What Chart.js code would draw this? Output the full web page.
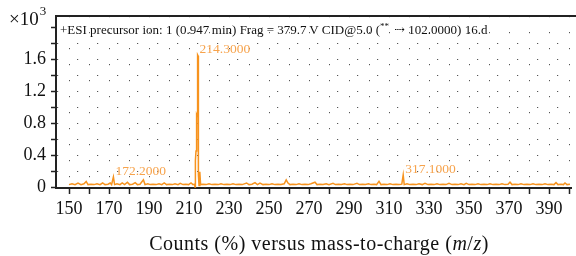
<!DOCTYPE html>
<html lang="en">
<head>
<meta charset="UTF-8">
<title>ESI precursor ion spectrum</title>
<style>
  html, body { margin: 0; padding: 0; background: #fff; }
  #wrap { width: 576px; height: 256px; }
</style>
</head>
<body>
<div id="wrap"><canvas id="myChart" width="576" height="256"></canvas></div>

<script src="https://cdn.jsdelivr.net/npm/chart.js@4/dist/chart.umd.min.js"></script>
<script>
// m/z values and counts (x10^3)
var mzValues = [150, 151.5, 153, 154.5, 156, 157.5, 158.6, 159.5, 161, 162.5, 164, 165.5, 166.8, 168, 169.5, 170.6, 171.3, 172.2, 172.8, 174,
  175.5, 176.6, 177.8, 179.2, 180.3, 181.8, 183.1, 184.2, 185.5, 187.2, 188, 189.4, 190.6, 192, 193.5, 195, 196.4, 197.6, 198.8, 200.2,
  201.7, 203, 204.5, 205.6, 207, 208.4, 209.8, 211, 212, 212.7, 213.0, 213.2, 213.5, 213.8, 214.1, 214.3, 214.5, 214.7, 215.0, 215.4,
  215.8, 217, 218.5, 220, 221.5, 223, 224.6, 226, 227.5, 229, 230.5, 232, 233.5, 235, 236.6, 238.8, 240, 241.5, 243, 244.2,
  245.5, 247, 248.5, 250, 251.5, 253, 254.5, 256, 257.6, 258.6, 259.5, 260.5, 262, 263.5, 265, 266.5, 268, 269.5, 271, 273,
  274, 275.5, 277, 278.6, 280, 282, 283.2, 284.8, 286.2, 287.8, 289, 290.5, 292, 294, 295.2, 296.8, 298.2, 299.8, 301, 302.5,
  303.8, 305, 306, 307.5, 309, 310.5, 312, 313.5, 315, 316.4, 317.1, 317.6, 319, 320.5, 322, 323.5, 325, 326.6, 328, 329.5,
  331, 332.5, 334, 335.5, 337, 338.5, 340, 341.5, 343, 344.5, 346, 347.5, 348.6, 350, 351.5, 353, 354.5, 356, 357.5, 359,
  360.5, 362, 363.5, 365, 366.5, 368, 369.5, 370.5, 371.5, 373, 374.5, 376, 377.5, 379, 380.5, 382, 383.5, 385, 386.5, 388,
  389.5, 391, 392.5, 393.5, 394.5, 396, 397.2, 398, 399, 400.5];
var counts = [0.03, 0.04, 0.03, 0.05, 0.03, 0.04, 0.07, 0.03, 0.035, 0.03, 0.04, 0.03, 0.05, 0.03, 0.035, 0.05, 0.03, 0.125, 0.03, 0.04,
  0.03, 0.05, 0.03, 0.06, 0.03, 0.035, 0.055, 0.03, 0.035, 0.09, 0.03, 0.04, 0.03, 0.035, 0.03, 0.04, 0.03, 0.05, 0.03, 0.035,
  0.03, 0.04, 0.03, 0.045, 0.03, 0.035, 0.03, 0.05, 0.03, 0.035, 0.0, 0.33, 0.45, 0.9, 0.88, 1.65, 1.64, 0.15, 0.02, 0.19,
  0.03, 0.035, 0.03, 0.04, 0.03, 0.035, 0.03, 0.04, 0.03, 0.035, 0.03, 0.04, 0.03, 0.035, 0.03, 0.05, 0.03, 0.035, 0.055, 0.03,
  0.05, 0.03, 0.035, 0.03, 0.04, 0.03, 0.035, 0.03, 0.04, 0.09, 0.05, 0.03, 0.035, 0.03, 0.04, 0.03, 0.035, 0.03, 0.04, 0.06,
  0.03, 0.035, 0.03, 0.04, 0.03, 0.045, 0.03, 0.035, 0.03, 0.04, 0.03, 0.035, 0.03, 0.045, 0.03, 0.035, 0.03, 0.04, 0.03, 0.035,
  0.03, 0.07, 0.03, 0.035, 0.03, 0.04, 0.03, 0.035, 0.03, 0.035, 0.15, 0.03, 0.04, 0.03, 0.035, 0.03, 0.04, 0.03, 0.045, 0.03,
  0.035, 0.03, 0.04, 0.03, 0.035, 0.03, 0.045, 0.03, 0.035, 0.03, 0.04, 0.03, 0.045, 0.03, 0.035, 0.03, 0.04, 0.03, 0.035, 0.03,
  0.04, 0.03, 0.035, 0.03, 0.04, 0.03, 0.035, 0.06, 0.03, 0.035, 0.03, 0.04, 0.03, 0.035, 0.03, 0.04, 0.03, 0.035, 0.03, 0.04,
  0.03, 0.035, 0.03, 0.055, 0.03, 0.035, 0.03, 0.05, 0.03, 0.035];

// labelled peaks
var peakMz = [214.3, 172.2, 317.1];
var peakCounts = [1.65, 0.125, 0.15];
var peakLabels = ['214.3000', '172.2000', '317.1000'];

var xTickLabels = ['150', '170', '190', '210', '230', '250', '270', '290', '310', '330', '350', '370', '390'];
var yTickLabels = ['0', '0.4', '0.8', '1.2', '1.6'];

var titleText = '+ESI precursor ion: 1 (0.947\u2009min) Frag = 379.7\u2009V CID@5.0 (';
var titleSup = '**';
var titleEnd = ' \u21e2 102.0000) 16.d';

var serif = "'Liberation Serif', 'DejaVu Serif', serif";
var orange = '#f7931e';

var points = [];
for (var i = 0; i < mzValues.length; i++) {
    points.push({ x: mzValues[i], y: counts[i] });
}

var decor = {
    id: 'decor',
    afterDraw: function (chart) {
        var ctx = chart.ctx;
        var area = chart.chartArea;
        var xs = chart.scales.x;
        var ys = chart.scales.y;
        ctx.save();

        // top frame line
        ctx.strokeStyle = '#222';
        ctx.lineWidth = 2;
        ctx.beginPath();
        ctx.moveTo(area.left - 1, area.top);
        ctx.lineTo(chart.width, area.top);
        ctx.stroke();

        // header text
        ctx.fillStyle = '#111';
        ctx.textBaseline = 'alphabetic';
        ctx.textAlign = 'left';
        ctx.font = '13px ' + serif;
        var tx = area.left + 4;
        var ty = area.top + 18;
        ctx.fillText(titleText, tx, ty);
        tx += ctx.measureText(titleText).width;
        ctx.font = '9px ' + serif;
        ctx.fillText(titleSup, tx, ty - 5);
        tx += ctx.measureText(titleSup).width + 2;
        ctx.font = '13px ' + serif;
        ctx.fillText(titleEnd, tx, ty);

        // x10^3 multiplier
        ctx.font = '19px ' + serif;
        ctx.fillText('\u00d710', 9, 25);
        var w = ctx.measureText('\u00d710').width;
        ctx.font = '13px ' + serif;
        ctx.fillText('3', 9 + w + 1, 15);

        // peak labels
        ctx.fillStyle = '#f7a34c';
        ctx.font = '13.5px ' + serif;
        ctx.textBaseline = 'middle';
        for (var k = 0; k < peakMz.length; k++) {
            var px = xs.getPixelForValue(peakMz[k]);
            var py = ys.getPixelForValue(peakCounts[k]);
            ctx.fillText(peakLabels[k], px + 2, py - 6);
        }

        // x axis title with italic m/z
        var parts = [
            { t: 'Counts (%) versus mass-to-charge (', f: '20px ' + serif },
            { t: 'm', f: 'italic 20px ' + serif },
            { t: '/', f: '20px ' + serif },
            { t: 'z', f: 'italic 20px ' + serif },
            { t: ')', f: '20px ' + serif }
        ];
        ctx.letterSpacing = '0.5px';
        var total = 0;
        parts.forEach(function (p) { ctx.font = p.f; total += ctx.measureText(p.t).width; });
        var cx = 319 - total / 2;
        ctx.fillStyle = '#111';
        ctx.textBaseline = 'alphabetic';
        parts.forEach(function (p) {
            ctx.font = p.f;
            ctx.fillText(p.t, cx, 250);
            cx += ctx.measureText(p.t).width;
        });

        ctx.restore();
    }
};

new Chart(document.getElementById('myChart').getContext('2d'), {
    type: 'line',
    data: {
        datasets: [{
            data: points,
            borderColor: orange,
            borderWidth: 1.5,
            pointRadius: 0,
            fill: false,
            tension: 0
        }]
    },
    options: {
        responsive: false,
        animation: false,
        layout: { padding: { top: 16, right: 5, left: 0, bottom: 0 } },
        plugins: { legend: { display: false }, tooltip: { enabled: false } },
        scales: {
            x: {
                type: 'linear',
                min: 143.5,
                max: 401,
                afterFit: function (s) { s.height = 68; },
                border: { color: '#222', width: 2, dash: [1.2, 14.8] },
                grid: { color: '#555', lineWidth: 1, tickColor: '#222', tickLength: 6, tickWidth: 1.5 },
                ticks: {
                    stepSize: 10,
                    includeBounds: false,
                    autoSkip: false,
                    maxRotation: 0,
                    padding: 4,
                    color: '#111',
                    font: { family: serif, size: 18 },
                    callback: function (v) {
                        var s = String(Math.round(v));
                        return xTickLabels.indexOf(s) >= 0 ? s : '';
                    }
                }
            },
            y: {
                min: -0.0125,
                max: 2.1375,
                afterFit: function (s) { s.width = 56; },
                border: { color: '#222', width: 2, dash: [1.2, 18.8] },
                grid: {
                    // no dotted row behind the header text
                    color: function (c) { return c.tick && c.tick.value > 1.9 ? 'rgba(0,0,0,0)' : '#555'; },
                    lineWidth: 1, tickColor: '#222', tickLength: 5, tickWidth: 1.5
                },
                ticks: {
                    stepSize: 0.2,
                    includeBounds: false,
                    autoSkip: false,
                    padding: 5,
                    color: '#111',
                    font: { family: serif, size: 18 },
                    callback: function (v) {
                        var s = String(Math.round(v * 10) / 10);
                        return yTickLabels.indexOf(s) >= 0 ? s : '';
                    }
                }
            }
        }
    },
    plugins: [decor]
});
</script>
</body>
</html>
